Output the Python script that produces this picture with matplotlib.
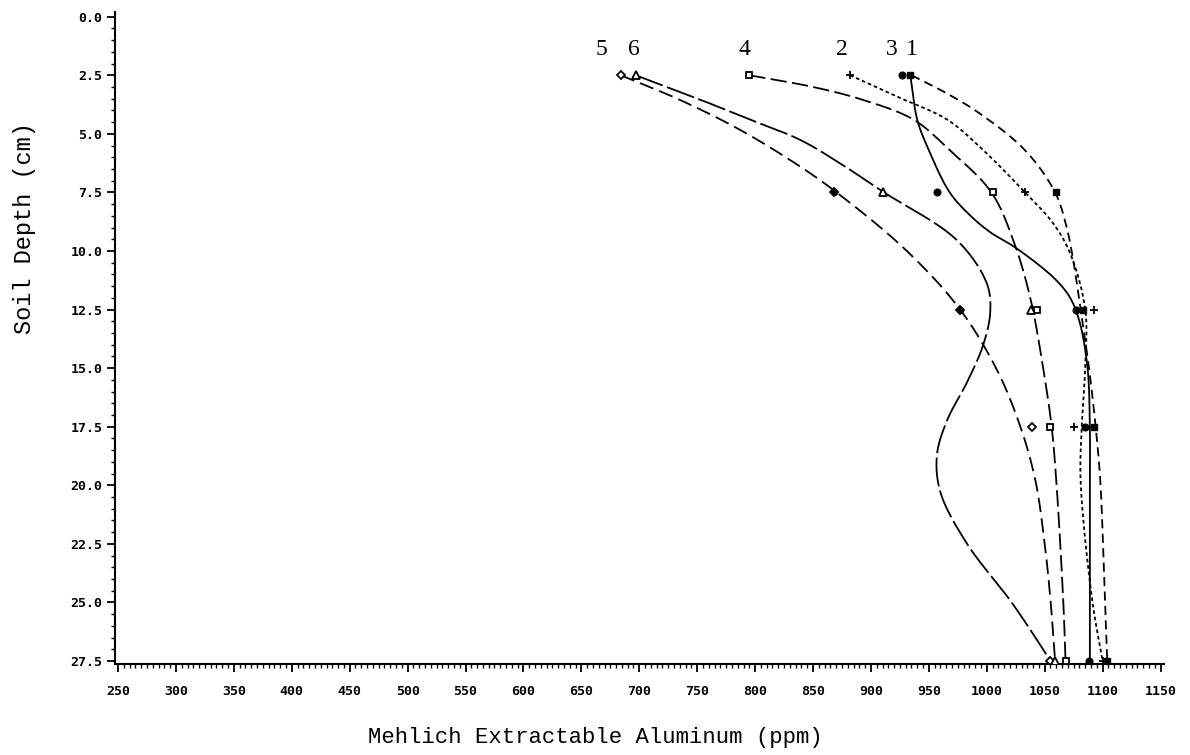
import numpy as np
import matplotlib
matplotlib.use("Agg")
import matplotlib.pyplot as plt
from matplotlib.ticker import MultipleLocator, FuncFormatter

# ---------------- data ----------------
series_names = ["1", "2", "3", "4", "5", "6"]
label_x = [935, 875, 918, 791, 667, 695]   # ppm positions of the series labels
label_depth = 1.4

marker_depths = [2.5, 7.5, 12.5, 17.5, 27.5]
m1 = [934, 1060, 1083, 1093, 1104]
m2 = [882, 1033, 1093, 1075, 1100]
m3 = [927, 957, 1077, 1085, 1088]
m4 = [795, 1005, 1043, 1055, 1068]
m5 = [684, 868, 977, 1039, 1055]
m6 = [697, 910, 1038, np.nan, 1059]

# fitted curves (depth cm, aluminum ppm)
c1_depth = [2.5, 3.26, 4.1, 5.7, 7.5, 9.0, 10.5, 12.5, 14.9, 17.5, 19.8, 24.9, 27.5]
c1_al = [935, 965, 993, 1033, 1059, 1069, 1075, 1081, 1088, 1094, 1098, 1102, 1104]
c2_depth = [2.5, 3.4, 4.4, 5.7, 7.5, 8.8, 10.1, 12.5, 14.9, 17.5, 19.8, 24.9, 27.5]
c2_al = [882, 922, 966, 997, 1033, 1057, 1072, 1085, 1085, 1082, 1081, 1091, 1100]
c3_depth = [2.5, 4.4, 5.7, 7.5, 8.5, 9.2, 9.8, 10.6, 11.3, 12.0, 13.0, 15.0, 17.5, 20.0, 25.0, 27.5]
c3_al = [934, 940, 950, 968, 986, 1003, 1023, 1045, 1061, 1072, 1080, 1087, 1089, 1089, 1089, 1089]
c4_depth = [2.5, 3.0, 3.55, 4.4, 5.7, 7.5, 9.7, 12.1, 15.1, 17.5, 19.8, 24.9, 27.5]
c4_al = [795, 850, 893, 937, 968, 1004, 1024, 1038, 1049, 1056, 1060, 1066, 1068]
c5_depth = [2.5, 3.55, 4.83, 6.4, 7.6, 10.0, 12.5, 15.1, 17.5, 19.8, 22.5, 24.9, 27.5]
c5_al = [684, 735, 787, 839, 873, 931, 977, 1009, 1029, 1042, 1050, 1055, 1059]
c6_depth = [2.5, 3.55, 4.4, 5.26, 6.25, 7.46, 9.53, 11.38, 12.6, 14.0, 15.6, 17.2,
            18.7, 20.3, 22.5, 24.9, 26.2, 27.5]
c6_al = [697, 753, 796, 839, 873, 910, 974, 1000, 1003, 997, 983, 966,
         957, 960, 983, 1020, 1038, 1055]

x_ticks = list(range(250, 1151, 50))
y_ticks = [0.0, 2.5, 5.0, 7.5, 10.0, 12.5, 15.0, 17.5, 20.0, 22.5, 25.0, 27.5]

PX_PER_PPM = 1.158
PX_PER_CM = 23.4


def catmull_rom(xs, ys, n=40, alpha=0.5):
    """Centripetal Catmull-Rom curve through the given points (computed in pixel space)."""
    P = np.column_stack([np.asarray(xs, float) * PX_PER_PPM, np.asarray(ys, float) * PX_PER_CM])
    P = np.vstack([2 * P[0] - P[1], P, 2 * P[-1] - P[-2]])
    out = []
    for i in range(1, len(P) - 2):
        p0, p1, p2, p3 = P[i - 1], P[i], P[i + 1], P[i + 2]
        t0 = 0.0
        t1 = t0 + np.linalg.norm(p1 - p0) ** alpha
        t2 = t1 + np.linalg.norm(p2 - p1) ** alpha
        t3 = t2 + np.linalg.norm(p3 - p2) ** alpha
        t = np.linspace(t1, t2, n)[:, None]
        a1 = (t1 - t) / (t1 - t0) * p0 + (t - t0) / (t1 - t0) * p1
        a2 = (t2 - t) / (t2 - t1) * p1 + (t - t1) / (t2 - t1) * p2
        a3 = (t3 - t) / (t3 - t2) * p2 + (t - t2) / (t3 - t2) * p3
        b1 = (t2 - t) / (t2 - t0) * a1 + (t - t0) / (t2 - t0) * a2
        b2 = (t3 - t) / (t3 - t1) * a2 + (t - t1) / (t3 - t1) * a3
        c = (t2 - t) / (t2 - t1) * b1 + (t - t1) / (t2 - t1) * b2
        out.append(c if i == 1 else c[1:])
    c = np.vstack(out)
    return c[:, 0] / PX_PER_PPM, c[:, 1] / PX_PER_CM


fig = plt.figure(figsize=(11.9, 7.55), dpi=100)
ax = fig.add_axes([115 / 1190, 1 - 664 / 755, (1164 - 115) / 1190, (664 - 12) / 755])

curves = [(c1_depth, c1_al, (0, (5, 3))),
          (c2_depth, c2_al, (0, (2, 1.6))),
          (c3_depth, c3_al, "-"),
          (c4_depth, c4_al, (0, (9, 3))),
          (c5_depth, c5_al, (0, (8, 3.5))),
          (c6_depth, c6_al, (0, (16, 2.5)))]
for dep, al, ls in curves:
    cx, cy = catmull_rom(al, dep)
    ax.plot(cx, cy, color="black", lw=1.3, linestyle=ls,
            solid_capstyle="butt", dash_capstyle="butt")

mk = dict(color="black", linestyle="none", zorder=3)
ax.plot(m1, marker_depths, marker="s", ms=4.5, mfc="black", **mk)
ax.plot(m2, marker_depths, marker="+", ms=6, mew=1.3, **mk)
ax.plot(m3, marker_depths, marker="o", ms=4.8, mfc="black", **mk)
ax.plot(m4, marker_depths, marker="s", ms=5, mfc="white", mew=1.3, **mk)
ax.plot(m5, marker_depths, marker="D", ms=3.8, mfc="white", mew=1.3, **mk)
# series 5 markers at 7.5 and 12.5 cm appear filled in the original
filled5 = [1, 2]
ax.plot([m5[i] for i in filled5], [marker_depths[i] for i in filled5],
        marker="o", ms=4.3, mfc="black", **mk)
ax.plot(m6, marker_depths, marker="^", ms=5.5, mfc="white", mew=1.3, **mk)

for name, lx in zip(series_names, label_x):
    ax.text(lx, label_depth, name, ha="center", va="center",
            fontsize=17, family="Liberation Serif")

ax.set_xlim(247.4, 1153)
ax.set_ylim(27.63, -0.2)
ax.set_xticks(x_ticks)
ax.set_yticks(y_ticks)
ax.xaxis.set_minor_locator(MultipleLocator(5))
ax.yaxis.set_minor_locator(MultipleLocator(0.5))
ax.yaxis.set_major_formatter(FuncFormatter(lambda v, p: f"{v:.1f}"))
for s in ["top", "right"]:
    ax.spines[s].set_visible(False)
for s in ["left", "bottom"]:
    ax.spines[s].set_linewidth(1.5)
ax.tick_params(axis="both", which="major", direction="out", length=6, width=1.3,
               labelsize=9.5)
ax.tick_params(axis="both", which="minor", direction="out", length=3, width=1.0)
ax.tick_params(axis="x", pad=9)
ax.tick_params(axis="y", pad=3)
for lab in ax.get_xticklabels() + ax.get_yticklabels():
    lab.set_family("DejaVu Sans Mono")
    lab.set_fontweight("bold")

fig.text(25 / 1190, 1 - 228 / 755, "Soil Depth (cm)", rotation=90, ha="center",
         va="center", fontsize=17, family="Liberation Mono")
fig.text(0.5, 1 - 738 / 755, "Mehlich Extractable Aluminum (ppm)", ha="center",
         va="center", fontsize=16, family="Liberation Mono")

fig.savefig("out.png", dpi=100)
